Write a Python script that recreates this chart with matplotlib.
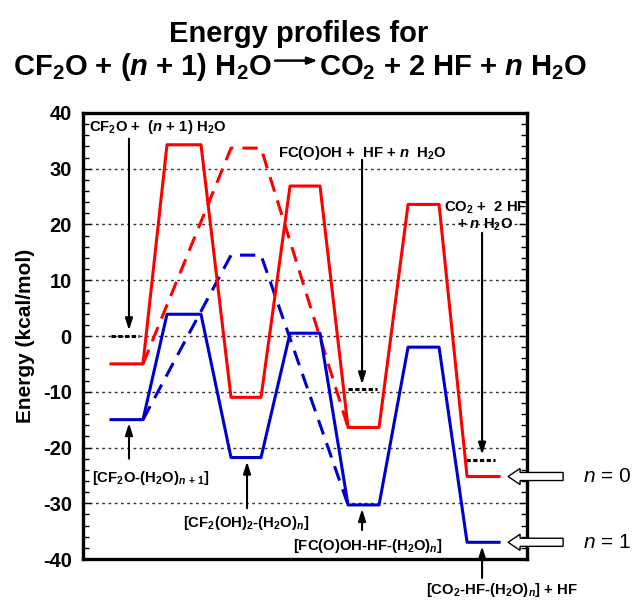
import matplotlib
matplotlib.use("Agg")
import matplotlib.pyplot as plt
from matplotlib.patches import FancyArrow

plt.rcParams['font.family'] = ['Liberation Sans', 'DejaVu Sans']
plt.rcParams['axes.unicode_minus'] = False
plt.rcParams['mathtext.fontset'] = 'custom'
plt.rcParams['mathtext.rm'] = 'Liberation Sans:weight=bold'
plt.rcParams['mathtext.bf'] = 'Liberation Sans:weight=bold'
plt.rcParams['mathtext.it'] = 'Liberation Sans:style=italic:weight=bold'
plt.rcParams['mathtext.sf'] = 'Liberation Sans:style=italic:weight=normal'

# horizontal slots for each stationary point (left, right edge)
slots = [(111, 143), (167, 201), (231, 261), (290, 320), (348, 379), (408, 439), (467, 499)]
# energies, kcal/mol
e_n0 = [-5, 34.3, -11, 26.9, -16.4, 23.6, -25.2]
e_n1 = [-15, 3.9, -21.8, 0.5, -30.3, -2.0, -37.0]
# direct (concerted) path: reactant complex -> TS -> FC(O)OH complex
ts_direct_n0 = 33.7
ts_direct_n1 = 14.5
# separated reactant / intermediate / product reference levels
ref_levels = [0, -9.5, -22.2]
ref_slots = [(111, 139), (348, 377), (466, 495)]

red = '#ff0000'
blue = '#0000cc'


def profile(energies):
    xs, ys = [], []
    for (a, b), e in zip(slots, energies):
        xs += [a, b]
        ys += [e, e]
    return xs, ys


def direct(energies, ts):
    xs = [slots[0][1], slots[2][0], slots[2][1], slots[4][0]]
    ys = [energies[0], ts, ts, energies[4]]
    return xs, ys


fig = plt.figure(figsize=(6.32, 6.0), dpi=100)
ax = fig.add_axes([0.1313, 0.0683, 0.7027, 0.7434])
ax.set_xlim(83, 527)
ax.set_ylim(-40, 40)

for y in range(-30, 40, 10):
    ax.axhline(y, color='#333333', lw=1, ls=(0, (2, 2.5)), zorder=1)

for (a, b), y in zip(ref_slots, ref_levels):
    ax.plot([a, b], [y, y], color='k', lw=2.2, dashes=(1.4, 0.8), zorder=3)

ax.plot(*direct(e_n0, ts_direct_n0), color=red, lw=2.2, dashes=(5, 3), zorder=2)
ax.plot(*direct(e_n1, ts_direct_n1), color=blue, lw=2.2, dashes=(5, 3), zorder=2)
ax.plot(*profile(e_n0), color=red, lw=2.2, zorder=4)
ax.plot(*profile(e_n1), color=blue, lw=2.2, zorder=4)

ax.set_xticks([])
ax.set_yticks(range(-40, 41, 10))
ax.set_yticks(range(-40, 41, 2), minor=True)
ax.tick_params(axis='y', which='both', direction='in', left=True, right=True, width=1)
ax.tick_params(axis='y', which='major', length=6, labelsize=14.5, pad=8)
ax.tick_params(axis='y', which='minor', length=4)
for lab in ax.get_yticklabels():
    lab.set_fontweight('bold')
for s in ax.spines.values():
    s.set_linewidth(2.4)
ax.set_ylabel('Energy (kcal/mol)', fontsize=15, fontweight='bold', labelpad=6)

arrow_kw = dict(arrowstyle='-|>,head_length=0.7,head_width=0.22', color='k', lw=1.5,
                shrinkA=0, shrinkB=0)
fs = 10.7
tk = dict(fontsize=fs, fontweight='bold', va='center')

# labels above
ax.text(89, 37.5, r'CF$_2$O +  ($n$ + 1) H$_2$O', ha='left', **tk)
ax.annotate('', xy=(129, 1.0), xytext=(129, 35.4), arrowprops=arrow_kw)
ax.text(278, 32.8, r'FC(O)OH +  HF + $n$  H$_2$O', ha='left', **tk)
ax.annotate('', xy=(362, -8.7), xytext=(362, 31.6), arrowprops=arrow_kw)
ax.text(444, 23.0, r'CO$_2$ +  2 HF', ha='left', **tk)
ax.text(513, 20.0, r'+ $n$ H$_2$O', ha='right', **tk)
ax.annotate('', xy=(482, -21.3), xytext=(482, 18.5), arrowprops=arrow_kw)

# labels below
ax.text(92, -25.4, r'[CF$_2$O-(H$_2$O)$_{n\,+\,1}$]', ha='left', **tk)
ax.annotate('', xy=(129, -15.6), xytext=(129, -22.0), arrowprops=arrow_kw)
ax.text(246, -33.5, r'[CF$_2$(OH)$_2$-(H$_2$O)$_n$]', ha='center', **tk)
ax.annotate('', xy=(247, -22.5), xytext=(247, -30.9), arrowprops=arrow_kw)
ax.text(368, -37.6, r'[FC(O)OH-HF-(H$_2$O)$_n$]', ha='center', **tk)
ax.annotate('', xy=(362, -31.0), xytext=(362, -34.8), arrowprops=arrow_kw)
ax.text(502, -45.5, r'[CO$_2$-HF-(H$_2$O)$_n$] + HF', ha='center', clip_on=False, **tk)
ax.annotate('', xy=(482, -37.7), xytext=(482, -43.4), arrowprops=arrow_kw,
            annotation_clip=False)

# n labels with hollow arrows
for y, lab in [(e_n0[-1], r'$\mathsf{n}$ = 0'), (e_n1[-1], r'$\mathsf{n}$ = 1')]:
    arr = FancyArrow(563, y, -55, 0, width=1.45, head_width=2.9, head_length=12,
                     length_includes_head=True, facecolor='white', edgecolor='k',
                     lw=1.0, clip_on=False, zorder=5)
    ax.add_patch(arr)
    ax.text(583, y, lab, fontsize=15, fontweight='normal', va='center', ha='left',
            clip_on=False)

# title
fig.text(0.472, 0.93, 'Energy profiles for', fontsize=21, fontweight='bold',
         ha='center', va='baseline')
fig.text(272 / 632, 0.875, r'CF$_2$O + ($n$ + 1) H$_2$O', fontsize=21, fontweight='bold',
         ha='right', va='baseline')
fig.text(319 / 632, 0.875, r'CO$_2$ + 2 HF + $n$ H$_2$O', fontsize=21, fontweight='bold',
         ha='left', va='baseline')
fig.add_artist(plt.annotate('', xy=(317 / 632, 0.899), xytext=(275 / 632, 0.899),
                            xycoords='figure fraction', textcoords='figure fraction',
                            arrowprops=dict(arrowstyle='-|>,head_length=0.6,head_width=0.22',
                                            color='k', lw=1.4, shrinkA=0, shrinkB=0)))

fig.savefig('out.png', dpi=100)
